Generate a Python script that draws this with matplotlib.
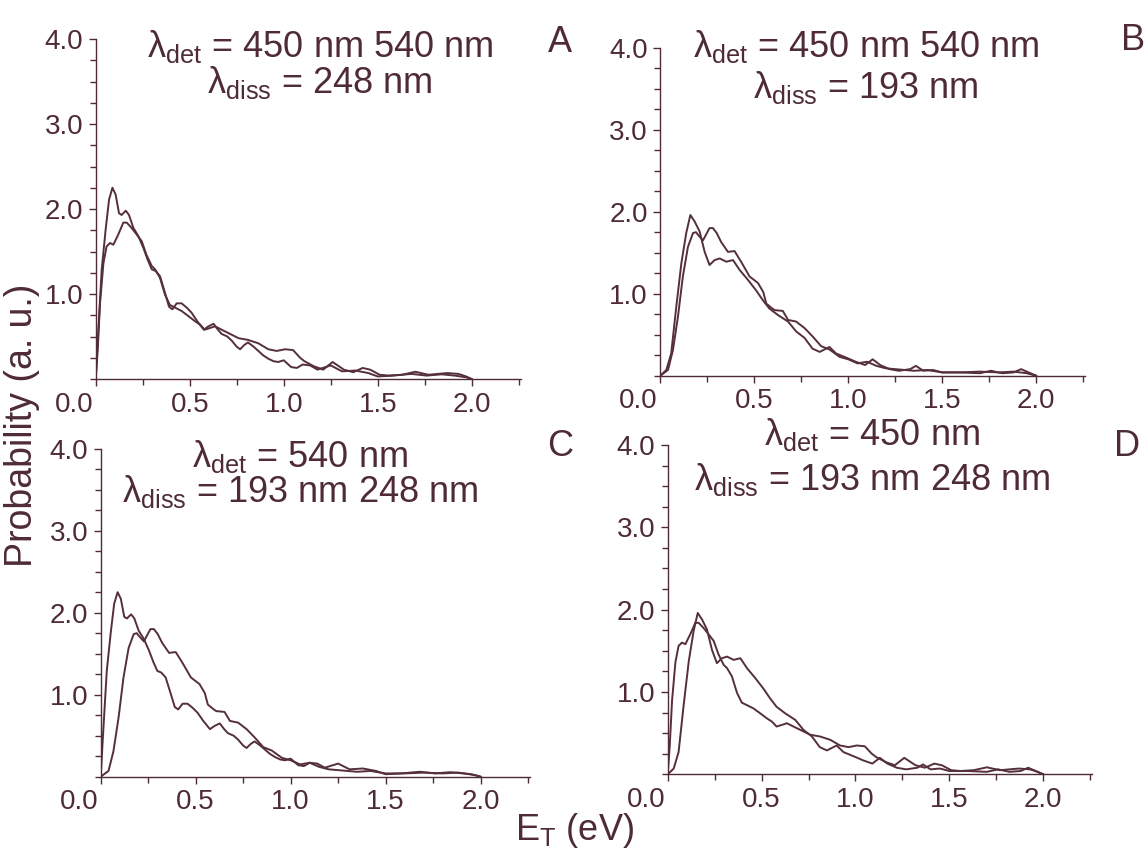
import numpy as np
import matplotlib
matplotlib.use('Agg')
import matplotlib.pyplot as plt
import matplotlib.transforms as mtransforms
from matplotlib.ticker import MultipleLocator, FormatStrFormatter

plt.rcParams['font.family'] = 'Liberation Sans'
plt.rcParams['mathtext.fontset'] = 'custom'
plt.rcParams['mathtext.rm'] = 'Liberation Sans'
plt.rcParams['mathtext.it'] = 'Liberation Sans:italic'
plt.rcParams['mathtext.default'] = 'regular'

ink = '#4e2b35'
line_col = '#552f3b'

# E_T distributions (eV, a.u.)
# det 540 nm, diss 248 nm
x_540_248 = [0, 0.011, 0.032, 0.053, 0.071, 0.089, 0.106, 0.124, 0.138, 0.16, 0.177, 0.20, 0.227,
             0.254, 0.277, 0.298, 0.319, 0.342, 0.369, 0.39, 0.408, 0.431, 0.457, 0.484, 0.51, 0.54,
             0.575, 0.60, 0.627, 0.65, 0.67, 0.70, 0.724, 0.75, 0.768, 0.79, 0.81, 0.84, 0.865, 0.89,
             0.917, 0.945, 0.97, 1.0, 1.04, 1.07, 1.1, 1.14, 1.18, 1.25, 1.31, 1.38, 1.45, 1.5, 1.58,
             1.68, 1.76, 1.84, 1.91, 1.97, 2.0]
y_540_248 = [0, 0.46, 1.29, 1.76, 2.11, 2.25, 2.17, 1.95, 1.93, 1.98, 1.93, 1.78, 1.68,
             1.54, 1.40, 1.29, 1.27, 1.21, 1.01, 0.85, 0.82, 0.89, 0.89, 0.84, 0.78, 0.68,
             0.58, 0.62, 0.65, 0.58, 0.53, 0.50, 0.45, 0.38, 0.35, 0.40, 0.43, 0.38, 0.33, 0.28,
             0.24, 0.21, 0.20, 0.22, 0.14, 0.13, 0.17, 0.16, 0.11, 0.16, 0.09, 0.10, 0.07, 0.03, 0.04,
             0.06, 0.04, 0.055, 0.04, 0.02, 0.0]

# det 450 nm, diss 248 nm
x_450_248 = [0, 0.011, 0.023, 0.041, 0.058, 0.076, 0.094, 0.12, 0.147, 0.165, 0.19, 0.218, 0.245,
             0.27, 0.298, 0.316, 0.342, 0.369, 0.395, 0.422, 0.457, 0.493, 0.528, 0.555, 0.58, 0.608,
             0.635, 0.67, 0.706, 0.76, 0.81, 0.865, 0.918, 0.963, 1.007, 1.05, 1.087, 1.11, 1.16,
             1.21, 1.26, 1.32, 1.37, 1.42, 1.46, 1.51, 1.56, 1.63, 1.70, 1.77, 1.87, 1.93, 1.97, 2.0]
y_450_248 = [0, 0.35, 0.89, 1.36, 1.56, 1.60, 1.58, 1.70, 1.84, 1.84, 1.78, 1.70, 1.62,
             1.46, 1.33, 1.29, 1.19, 0.99, 0.87, 0.84, 0.80, 0.74, 0.68, 0.64, 0.58, 0.60,
             0.62, 0.58, 0.54, 0.48, 0.46, 0.42, 0.35, 0.33, 0.35, 0.34, 0.25, 0.21, 0.15,
             0.11, 0.20, 0.11, 0.08, 0.13, 0.11, 0.05, 0.04, 0.05, 0.085, 0.05, 0.07, 0.06, 0.03, 0.0]

# det 450 nm, diss 193 nm
x_450_193 = [0, 0.032, 0.058, 0.085, 0.112, 0.138, 0.16, 0.183, 0.209, 0.236, 0.262, 0.289, 0.316,
             0.351, 0.387, 0.422, 0.466, 0.51, 0.546, 0.58, 0.626, 0.68, 0.723, 0.768, 0.81, 0.848,
             0.90, 0.936, 1.0, 1.04, 1.09, 1.13, 1.17, 1.22, 1.27, 1.33, 1.36, 1.40, 1.45, 1.5, 1.6,
             1.7, 1.76, 1.82, 1.88, 1.92, 1.96, 2.0]
y_450_193 = [0, 0.07, 0.27, 0.84, 1.37, 1.74, 1.96, 1.88, 1.76, 1.51, 1.35, 1.41, 1.43,
             1.39, 1.41, 1.29, 1.17, 1.04, 0.92, 0.82, 0.74, 0.66, 0.54, 0.46, 0.33, 0.29,
             0.35, 0.27, 0.21, 0.17, 0.13, 0.20, 0.13, 0.08, 0.06, 0.08, 0.12, 0.06, 0.07, 0.04, 0.04,
             0.03, 0.06, 0.03, 0.04, 0.08, 0.04, 0.0]

# det 540 nm, diss 193 nm
x_540_193 = [0, 0.041, 0.067, 0.094, 0.12, 0.147, 0.174, 0.19, 0.2, 0.227, 0.262, 0.28, 0.30,
             0.324, 0.36, 0.395, 0.43, 0.475, 0.52, 0.548, 0.564, 0.59, 0.608, 0.652, 0.68, 0.723,
             0.768, 0.81, 0.856, 0.90, 0.954, 1.0, 1.05, 1.1, 1.15, 1.2, 1.25, 1.3, 1.35, 1.42, 1.5,
             1.6, 1.7, 1.8, 1.88, 1.95, 2.0]
y_540_193 = [0, 0.07, 0.31, 0.72, 1.21, 1.57, 1.74, 1.75, 1.72, 1.65, 1.80, 1.80, 1.74,
             1.63, 1.51, 1.52, 1.39, 1.21, 1.13, 1.02, 0.88, 0.83, 0.80, 0.79, 0.68, 0.66,
             0.58, 0.48, 0.36, 0.32, 0.23, 0.20, 0.15, 0.17, 0.12, 0.09, 0.08, 0.07, 0.06, 0.07, 0.04,
             0.04, 0.05, 0.04, 0.05, 0.03, 0.0]

x_ticks = [0.0, 0.5, 1.0, 1.5, 2.0]
y_ticks = [1.0, 2.0, 3.0, 4.0]
panel_letters = ['A', 'B', 'C', 'D']
det_text = ['450 nm 540 nm', '450 nm 540 nm', '540 nm', '450 nm']
diss_text = ['248 nm', '193 nm', '193 nm 248 nm', '193 nm 248 nm']
panel_curves = [
    [(x_450_248, y_450_248), (x_540_248, y_540_248)],
    [(x_450_193, y_450_193), (x_540_193, y_540_193)],
    [(x_540_193, y_540_193), (x_540_248, y_540_248)],
    [(x_450_193, y_450_193), (x_450_248, y_450_248)],
]

W, H = 1148, 852
fig = plt.figure(figsize=(W / 100, H / 100), dpi=100)


def px(x, y):
    return x / W, 1 - y / H


# axes rectangles in pixels: left, top, right, bottom
rects = [(95.7, 39, 520.6, 379), (660.3, 47.7, 1085, 375.7),
         (100.7, 448.7, 530, 776.7), (667.7, 445, 1092, 774.3)]
# text anchors in pixels: (x center, baseline line 1, baseline line 2), letter pos
text_pos = [(320, 57, 93), (866, 57, 98), (300, 467, 502), (872, 445, 490)]
letter_pos = [(560, 42), (1133, 40), (560, 447), (1127, 447)]

for i in range(4):
    l, t, r, b = rects[i]
    ax = fig.add_axes([l / W, 1 - b / H, (r - l) / W, (b - t) / H])
    for xs, ys in panel_curves[i]:
        ax.plot(xs, ys, color=line_col, lw=1.4)
    ax.set_xlim(0, 2.26)
    ax.set_ylim(0, 4.0)
    ax.spines['top'].set_visible(False)
    ax.spines['right'].set_visible(False)
    for s in ['left', 'bottom']:
        ax.spines[s].set_color(ink)
        ax.spines[s].set_linewidth(1.0)
    ax.set_xticks(x_ticks)
    ax.set_yticks(y_ticks)
    ax.xaxis.set_minor_locator(MultipleLocator(0.25))
    ax.yaxis.set_minor_locator(MultipleLocator(0.25))
    ax.xaxis.set_major_formatter(FormatStrFormatter('%.1f'))
    ax.yaxis.set_major_formatter(FormatStrFormatter('%.1f'))
    ax.tick_params(which='both', direction='out', color=ink, labelcolor=ink,
                   labelsize=20, width=1.0)
    ax.tick_params(which='major', length=5, pad=4)
    ax.tick_params(which='minor', length=4)
    ax.patch.set_alpha(0)
    # the 0.0 label sits a bit left of the corner
    tick0 = ax.xaxis.get_major_ticks()[0]
    tick0.label1.set_transform(tick0.label1.get_transform() +
                               mtransforms.ScaledTranslation(-0.22, 0, fig.dpi_scale_trans))

    cx, y1, y2 = text_pos[i]
    fig.text(*px(cx, y1), 'λ$_{det}$ = ' + det_text[i], ha='center', va='baseline',
             fontsize=26, color=ink)
    fig.text(*px(cx, y2), 'λ$_{diss}$ = ' + diss_text[i], ha='center', va='baseline',
             fontsize=26, color=ink)
    lx, ly = letter_pos[i]
    fig.text(*px(lx, ly), panel_letters[i], ha='center', va='center', fontsize=26, color=ink)

fig.text(*px(22, 425), 'Probability (a. u.)', rotation=90, ha='center', va='center',
         fontsize=27, color=ink)
fig.text(*px(575, 830), 'E$_T$ (eV)', ha='center', va='center', fontsize=26, color=ink)

fig.savefig('out.png', dpi=100)
